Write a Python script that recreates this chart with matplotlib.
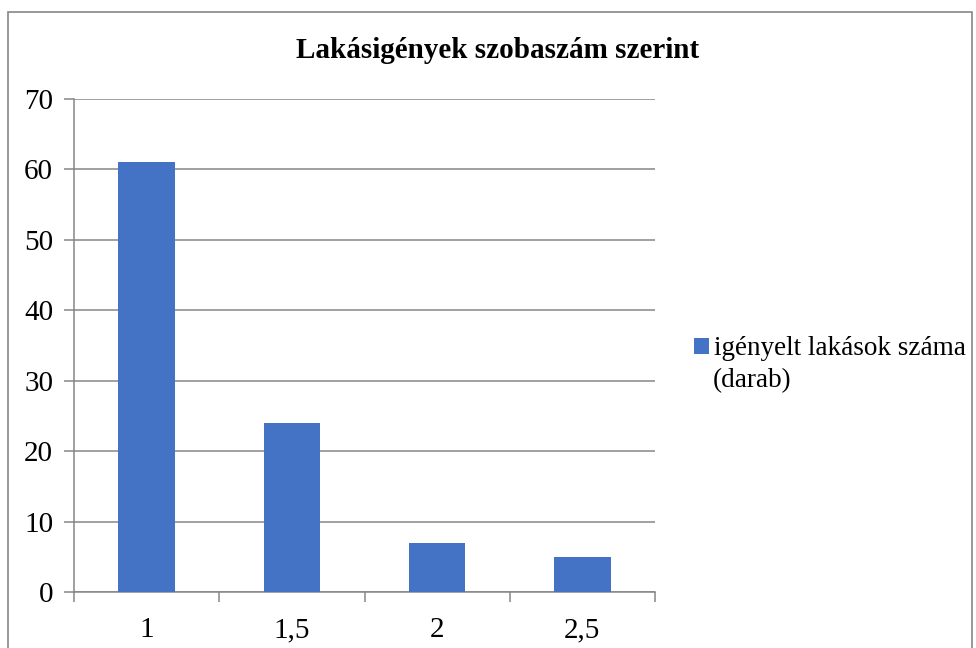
import matplotlib.pyplot as plt
from matplotlib.patches import Rectangle

categories = ['1', '1,5', '2', '2,5']
values = [61, 24, 7, 5]
series_name = 'igényelt lakások száma'
series_unit = '(darab)'
title = 'Lakásigények szobaszám szerint'

plt.rcParams['font.family'] = ['Liberation Serif', 'DejaVu Serif']

fig = plt.figure(figsize=(9.76, 6.48), dpi=100)
# outer chart border
fig.patches.append(Rectangle((8 / 976, -0.1), 964 / 976, 1.1 - 12 / 648,
                             transform=fig.transFigure, fill=False,
                             edgecolor='#868686', linewidth=1.2))

ax = fig.add_axes([74 / 976, 1 - 592 / 648, 581 / 976, 493 / 648])
grid_color = '#868686'

x = range(len(categories))
ax.bar(x, values, width=0.39, color='#4472C4', label=series_name, zorder=3)

ax.set_xlim(-0.5, len(categories) - 0.5)
ax.set_ylim(0, 70)
ax.set_yticks(range(0, 71, 10))
ax.yaxis.grid(True, color=grid_color, linewidth=1.1, zorder=0)

ax.set_xticks(list(x))
ax.set_xticklabels(categories, fontsize=21)
ax.tick_params(axis='x', length=0, pad=18)
ax.set_xticks([i - 0.5 for i in range(len(categories) + 1)], minor=True)
ax.tick_params(axis='x', which='minor', length=7, color=grid_color, width=1.1)
ax.tick_params(axis='y', labelsize=21, length=7, color=grid_color, width=1.1, pad=8)

for side in ['top', 'right']:
    ax.spines[side].set_visible(False)
for side in ['left', 'bottom']:
    ax.spines[side].set_color(grid_color)
    ax.spines[side].set_linewidth(1.1)

fig.text(498 / 976, 1 - 51 / 648, title, ha='center', va='center',
         fontsize=21, fontweight='bold')

fig.legend(loc='center left', bbox_to_anchor=(694 / 976, 1 - 349 / 648),
           frameon=False, fontsize=19.5, handlelength=0.55, handleheight=0.55,
           handletextpad=0.2, borderpad=0, borderaxespad=0)
fig.text(713 / 976, 1 - 381 / 648, series_unit, ha='left', va='center', fontsize=19.5)

fig.savefig('out.png', dpi=100)
